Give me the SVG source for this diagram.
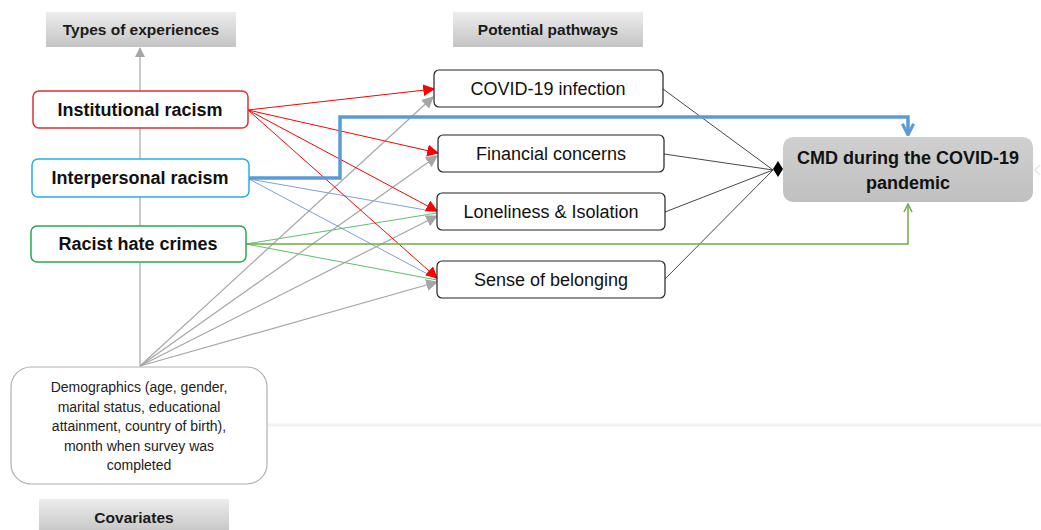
<svg xmlns="http://www.w3.org/2000/svg" width="1041" height="530" viewBox="0 0 1041 530">
<defs>
<linearGradient id="hdr" x1="0" y1="0" x2="0" y2="1"><stop offset="0" stop-color="#ededed"/><stop offset="1" stop-color="#c4c4c4"/></linearGradient>
<linearGradient id="cmd" x1="0" y1="0" x2="0" y2="1"><stop offset="0" stop-color="#d0d0d0"/><stop offset="1" stop-color="#c0c0c0"/></linearGradient>
<marker id="aRed" viewBox="0 0 10 10" refX="9" refY="5" markerWidth="12" markerHeight="12" markerUnits="userSpaceOnUse" orient="auto"><path d="M0,0 L10,5 L0,10 z" fill="#ff0000"/></marker>
<marker id="aGray" viewBox="0 0 10 10" refX="9" refY="5" markerWidth="12" markerHeight="12" markerUnits="userSpaceOnUse" orient="auto"><path d="M0,0 L10,5 L0,10 z" fill="#a6a6a6"/></marker>
<marker id="aGrayUp" viewBox="0 0 10 10" refX="9" refY="5" markerWidth="10" markerHeight="10" markerUnits="userSpaceOnUse" orient="auto"><path d="M0,0 L10,5 L0,10 z" fill="#a6a6a6"/></marker>
<marker id="aBlue" viewBox="0 0 10 10" refX="9" refY="5" markerWidth="14" markerHeight="14" markerUnits="userSpaceOnUse" orient="auto"><path d="M1,1 L9,5 L1,9" fill="none" stroke="#5b9bd5" stroke-width="2.2"/></marker>
<marker id="aGreen" viewBox="0 0 10 10" refX="9" refY="5" markerWidth="10" markerHeight="10" markerUnits="userSpaceOnUse" orient="auto"><path d="M1,1 L9,5 L1,9" fill="none" stroke="#70ad47" stroke-width="1.5"/></marker>
</defs>
<style>
.hdr{fill:url(#hdr);}
.hdrt{font-family:"Liberation Sans",Arial,sans-serif;font-weight:bold;font-size:15.5px;fill:#1a1a1a;text-anchor:middle;}
.exp{fill:#fff;stroke-width:1.5;}
.expt{font-family:"Liberation Sans",Arial,sans-serif;font-weight:bold;font-size:18px;fill:#111;text-anchor:middle;}
.path{fill:#fff;stroke:#222;stroke-width:1.2;}
.patht{font-family:"Liberation Sans",Arial,sans-serif;font-size:18px;fill:#111;text-anchor:middle;}
.demt{font-family:"Liberation Sans",Arial,sans-serif;font-size:14px;fill:#222;text-anchor:middle;}
.red{stroke:#ff0000;stroke-width:1;fill:none;marker-end:url(#aRed);}
.gray{stroke:#a6a6a6;stroke-width:1.2;fill:none;marker-end:url(#aGray);}
.blu{stroke:#7f9fd8;stroke-width:1;fill:none;}
.grn{stroke:#5cc070;stroke-width:1;fill:none;}
.blk{stroke:#333;stroke-width:0.9;fill:none;}
</style>
<rect x="0" y="0" width="1041" height="530" fill="#fff"/>
<line x1="268" y1="425" x2="1041" y2="425" stroke="#f1f1f1" stroke-width="3"/>
<path d="M1040,165 L1035,170 L1040,175" fill="none" stroke="#e6e6e6" stroke-width="1.5"/>

<g id="connectors">
<line x1="140" y1="366" x2="140" y2="48" stroke="#a6a6a6" stroke-width="1.2" marker-end="url(#aGrayUp)"/>
<line class="blu" x1="249" y1="179" x2="437" y2="212"/>
<line class="blu" x1="249" y1="179" x2="437" y2="279"/>
<line class="grn" x1="246" y1="244" x2="437" y2="213"/>
<line class="grn" x1="246" y1="244" x2="437" y2="280"/>
<line class="gray" x1="140" y1="366" x2="433" y2="97"/>
<line class="gray" x1="140" y1="366" x2="437" y2="156"/>
<line class="gray" x1="140" y1="366" x2="437" y2="216"/>
<line class="gray" x1="140" y1="366" x2="437" y2="282"/>
<line class="red" x1="248" y1="110" x2="434" y2="89"/>
<line class="red" x1="248" y1="110" x2="438" y2="153"/>
<line class="red" x1="248" y1="110" x2="437" y2="211"/>
<line class="red" x1="248" y1="110" x2="437" y2="278"/>
<line class="blk" x1="663" y1="89" x2="773" y2="170"/>
<line class="blk" x1="664" y1="154" x2="773" y2="170"/>
<line class="blk" x1="665" y1="212" x2="773" y2="170"/>
<line class="blk" x1="665" y1="279" x2="773" y2="170"/>
<path d="M773,169 L778,161 L783,169 L778,177 z" fill="#000"/>
<polyline points="249,178 340,178 340,117 908,117 908,135" fill="none" stroke="#5b9bd5" stroke-width="3.5" marker-end="url(#aBlue)"/>
<polyline points="246,244 908,244 908,204" fill="none" stroke="#70ad47" stroke-width="1.5" marker-end="url(#aGreen)"/>
</g>

<g id="hdr-types"><rect class="hdr" x="46" y="12" width="190" height="35"/><text class="hdrt" x="141" y="35">Types of experiences</text></g>
<g id="hdr-pathways"><rect class="hdr" x="453" y="12" width="190" height="35"/><text class="hdrt" x="548" y="35">Potential pathways</text></g>
<g id="hdr-covariates"><rect class="hdr" x="39" y="499" width="190" height="35"/><text class="hdrt" x="134" y="523">Covariates</text></g>

<g id="institutional"><rect class="exp" x="33" y="91" width="215" height="37" rx="6" stroke="#e03030"/><text class="expt" x="140" y="116">Institutional racism</text></g>
<g id="interpersonal"><rect class="exp" x="32" y="159" width="217" height="38" rx="6" stroke="#29aee0"/><text class="expt" x="140" y="184">Interpersonal racism</text></g>
<g id="hatecrimes"><rect class="exp" x="31" y="226" width="215" height="36" rx="6" stroke="#28a850"/><text class="expt" x="138" y="250">Racist hate crimes</text></g>

<g id="covid"><rect class="path" x="434" y="70" width="229" height="37" rx="5"/><text class="patht" x="548" y="95">COVID-19 infection</text></g>
<g id="financial"><rect class="path" x="438" y="135" width="226" height="37" rx="5"/><text class="patht" x="551" y="160">Financial concerns</text></g>
<g id="loneliness"><rect class="path" x="437" y="193" width="228" height="37" rx="5"/><text class="patht" x="551" y="218">Loneliness &amp; Isolation</text></g>
<g id="belonging"><rect class="path" x="437" y="261" width="228" height="37" rx="5"/><text class="patht" x="551" y="286">Sense of belonging</text></g>

<g id="cmd"><rect x="783" y="137" width="250" height="65" rx="10" fill="url(#cmd)"/>
<text class="expt" x="908" y="164">CMD during the COVID-19</text>
<text class="expt" x="908" y="189">pandemic</text></g>

<g id="demographics"><rect x="11" y="367" width="256" height="117" rx="20" fill="#fff" stroke="#b0b0b0" stroke-width="1.2"/>
<text class="demt" x="139" y="392">Demographics (age, gender,</text>
<text class="demt" x="139" y="412">marital status, educational</text>
<text class="demt" x="139" y="431">attainment, country of birth),</text>
<text class="demt" x="139" y="451">month when survey was</text>
<text class="demt" x="139" y="470">completed</text></g>
</svg>
